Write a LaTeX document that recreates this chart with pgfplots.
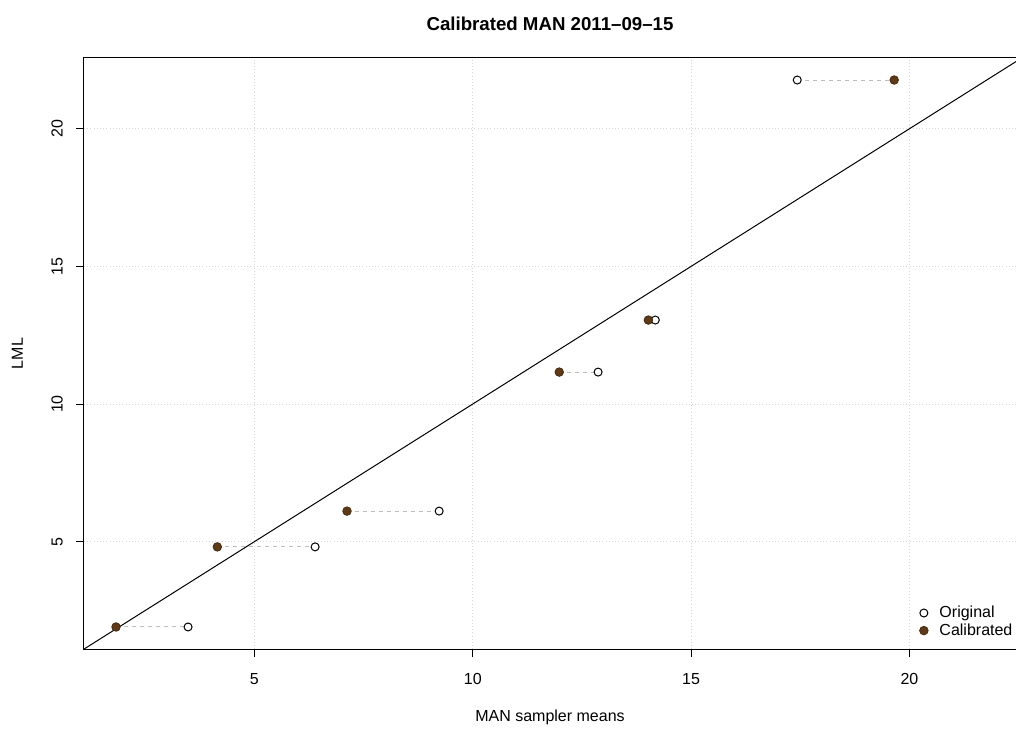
\documentclass[border=0pt]{standalone}
\usepackage{fontspec}
\setmainfont{Liberation Sans}
\usepackage{pgfplots}
\pgfplotsset{compat=1.18}
\definecolor{calib}{RGB}{94,58,22}
\definecolor{calibedge}{RGB}{70,42,14}
\definecolor{segcol}{RGB}{190,190,190}
\definecolor{gridcol}{RGB}{215,215,215}
\begin{document}
\begin{tikzpicture}
\begin{axis}[
  at={(0,0)}, anchor=south west,
  scale only axis, width=699pt, height=443.25pt,
  xmin=1.097, xmax=22.44, ymin=1.10, ymax=22.57,
  xtick={5,10,15,20}, ytick={5,10,15,20},
  xtick pos=left, ytick pos=left,
  tick align=outside, major tick length=6pt,
  tick style={black, line width=0.6pt},
  axis line style={black, line width=0.75pt},
  grid=major, grid style={gridcol, dotted, line width=0.6pt},
  font=\fontsize{12pt}{14pt}\selectfont,
  /pgf/number format/assume math mode=true,
  x tick label style={anchor=north, inner sep=0pt},
  xticklabel shift=12pt,
  y tick label style={rotate=90, anchor=south, inner sep=0pt},
  yticklabel shift=9.75pt,
  xlabel={MAN sampler means}, ylabel={LML},
  xlabel style={at={(axis description cs:0.5,-0.1235)}, anchor=base},
  ylabel style={at={(axis description cs:-0.0655,0.5)}, anchor=base, rotate=0},
  title={\bfseries Calibrated MAN 2011--09--15},
  title style={at={(axis description cs:0.5,1.0338)}, anchor=base, font=\fontsize{14pt}{16pt}\selectfont},
  legend style={draw=none, fill=none, at={(axis description cs:1,0)}, anchor=south east,
    xshift=2pt, yshift=5pt, row sep=0pt, font=\fontsize{12pt}{14pt}\selectfont,
    nodes={inner sep=1.5pt},
    /tikz/every odd column/.append style={column sep=7pt}},
  legend cell align=left,
  clip=true,
]
\addplot[black, line width=0.75pt, forget plot] coordinates {(0,0) (25,25)};
\addplot[segcol, dashed, dash pattern=on 3pt off 3pt, line width=0.75pt, forget plot] coordinates {(1.83,1.90) (3.48,1.90)};
\addplot[segcol, dashed, dash pattern=on 3pt off 3pt, line width=0.75pt, forget plot] coordinates {(4.15,4.81) (6.39,4.81)};
\addplot[segcol, dashed, dash pattern=on 3pt off 3pt, line width=0.75pt, forget plot] coordinates {(7.12,6.11) (9.23,6.11)};
\addplot[segcol, dashed, dash pattern=on 3pt off 3pt, line width=0.75pt, forget plot] coordinates {(11.98,11.16) (12.87,11.16)};
\addplot[segcol, dashed, dash pattern=on 3pt off 3pt, line width=0.75pt, forget plot] coordinates {(14.02,13.05) (14.18,13.05)};
\addplot[segcol, dashed, dash pattern=on 3pt off 3pt, line width=0.75pt, forget plot] coordinates {(17.43,21.77) (19.65,21.77)};
\addplot[only marks, mark=*, mark size=3pt, mark options={draw=black, fill=white, line width=0.75pt}] coordinates {
(3.48,1.90) (6.39,4.81) (9.23,6.11) (12.87,11.16) (14.18,13.05) (17.43,21.77)};
\addlegendentry{Original}
\addplot[only marks, mark=*, mark size=3.2pt, mark options={draw=calibedge, fill=calib, line width=0.6pt}] coordinates {
(1.83,1.90) (4.15,4.81) (7.12,6.11) (11.98,11.16) (14.02,13.05) (19.65,21.77)};
\addlegendentry{Calibrated}
\end{axis}
\pgfresetboundingbox
\path (-63pt,-62.25pt) rectangle (699pt,486.75pt);
\end{tikzpicture}
\end{document}
